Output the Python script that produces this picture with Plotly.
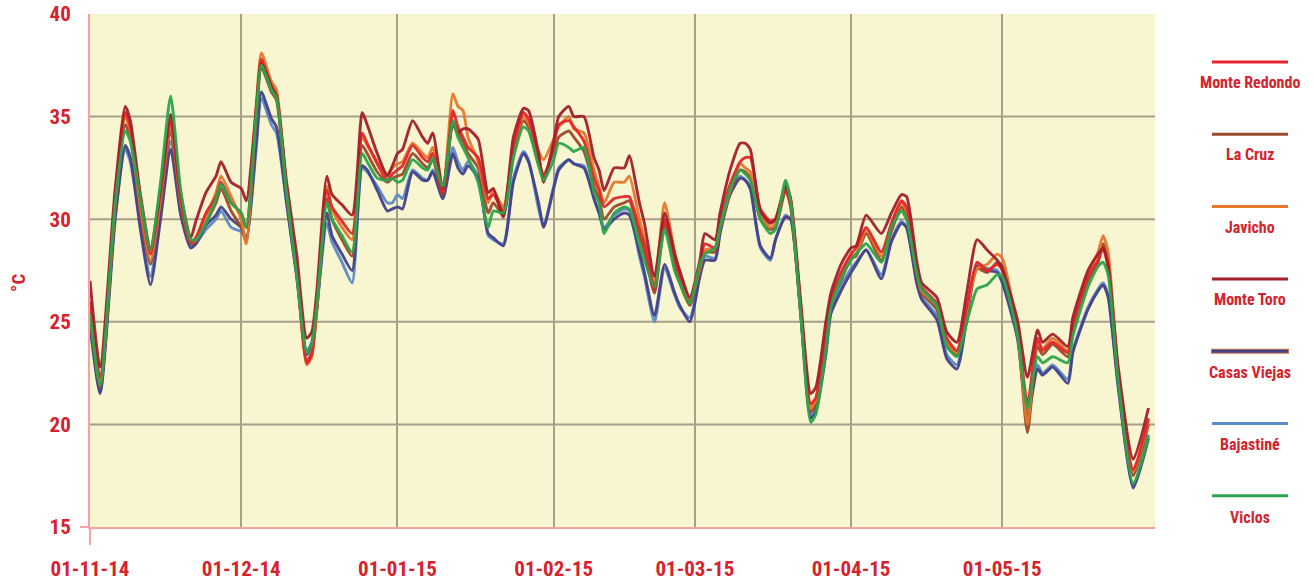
import pandas as pd
import plotly.graph_objects as go

# Days elapsed since 1 Nov 2014 for each sample
start = pd.Timestamp("2014-11-01")
day_offsets = [0, 2, 5, 7, 8, 10, 12, 14, 16, 18, 20, 21, 23, 25, 26, 28, 30, 31, 33, 34,
               36, 37, 39, 41, 43, 44, 45, 47, 48, 50, 52, 54, 55, 57, 59, 60, 61, 62, 64, 66,
               67, 68, 70, 72, 73, 74, 75, 77, 79, 80, 82, 84, 86, 87, 89, 90, 92, 93, 95, 96,
               98, 100, 101, 102, 104, 106, 107, 109, 110, 112, 114, 116, 117, 119, 121, 122, 124, 125, 127, 129,
               130, 131, 133, 135, 136, 138, 139, 141, 143, 144, 146, 147, 149, 151, 152, 154, 157, 159, 161, 162,
               164, 165, 168, 170, 172, 174, 176, 178, 180, 181, 184, 186, 188, 189, 191, 194, 195, 198, 200, 201,
               202, 204, 207, 210]

monte_toro = [27.0, 22.8, 31.5, 35.5, 34.8, 31.2, 28.6, 31.5, 35.1, 31.2, 29.1, 29.9, 31.3, 32.1, 32.8, 31.8, 31.5, 30.9, 35.5, 37.6,
              36.5, 36.0, 31.8, 28.3, 24.2, 24.5, 26.5, 32.1, 31.2, 30.7, 30.2, 35.2, 34.6, 33.2, 32.1, 32.6, 33.2, 33.4, 34.8, 34.0,
              33.7, 34.2, 31.5, 34.6, 34.2, 34.4, 34.4, 33.9, 31.3, 31.5, 30.1, 34.0, 35.4, 35.3, 33.2, 31.8, 33.8, 35.0, 35.5, 35.0,
              35.0, 33.0, 32.4, 31.4, 32.5, 32.5, 33.1, 30.8, 29.8, 27.2, 30.3, 28.3, 27.5, 26.2, 28.0, 29.3, 29.0, 30.3, 32.4, 33.7,
              33.7, 33.4, 30.4, 29.8, 30.0, 31.6, 31.0, 26.0, 21.5, 21.8, 25.0, 26.4, 27.8, 28.6, 28.7, 30.2, 29.3, 30.3, 31.2, 31.1,
              28.0, 26.9, 26.2, 24.5, 24.0, 26.5, 29.0, 28.5, 28.0, 27.6, 25.1, 22.3, 24.6, 24.0, 24.4, 23.8, 25.2, 27.5, 28.3, 28.6,
              27.8, 22.8, 18.3, 20.8]

monte_redondo = [26.0, 22.3, 31.0, 35.2, 34.5, 31.0, 28.3, 31.3, 34.8, 31.0, 28.9, 29.1, 30.3, 31.1, 31.8, 30.8, 30.3, 29.6, 35.2, 37.8,
                 36.4, 36.0, 31.5, 27.7, 23.0, 23.4, 25.8, 31.4, 30.6, 29.9, 29.3, 34.2, 33.7, 32.7, 31.9, 32.2, 32.4, 32.6, 33.6, 33.0,
                 32.8, 33.2, 31.3, 35.3, 34.5, 34.0, 33.5, 33.0, 31.0, 31.2, 30.4, 33.5, 35.2, 34.9, 33.0, 32.0, 33.6, 34.6, 34.8, 34.5,
                 33.8, 32.0, 31.4, 30.6, 31.0, 31.1, 31.1, 29.5, 28.8, 26.6, 30.0, 28.0, 27.2, 26.0, 27.8, 28.8, 28.6, 29.9, 31.7, 32.8,
                 33.0, 33.0, 30.5, 29.9, 30.0, 31.5, 30.8, 25.7, 21.0, 21.3, 24.4, 26.1, 27.4, 28.3, 28.6, 29.6, 28.4, 29.8, 30.9, 30.6,
                 27.7, 26.7, 25.9, 24.2, 23.6, 25.8, 27.9, 27.5, 27.8, 27.5, 24.8, 21.0, 24.2, 23.6, 24.0, 23.5, 24.8, 27.2, 28.0, 28.6,
                 27.6, 22.4, 17.8, 20.3]

javicho = [25.5, 22.0, 30.8, 35.0, 34.3, 30.6, 28.0, 31.0, 34.6, 30.9, 28.9, 29.0, 30.1, 31.3, 32.1, 31.1, 30.0, 28.8, 35.6, 38.1,
           36.7, 36.3, 31.5, 27.7, 22.9, 23.3, 25.6, 31.6, 30.5, 29.6, 29.0, 34.0, 33.6, 32.8, 32.2, 32.5, 32.7, 32.8, 33.7, 33.2,
           33.0, 33.5, 31.4, 36.1, 35.5, 35.3, 34.0, 32.8, 30.8, 31.4, 30.6, 33.4, 35.0, 34.7, 33.3, 32.9, 33.9, 34.5, 35.0, 34.4,
           34.2, 32.4, 31.6, 30.8, 31.8, 31.8, 32.1, 30.0, 29.0, 26.9, 30.8, 28.4, 27.4, 26.0, 27.6, 28.5, 28.6, 29.6, 31.4, 32.7,
           32.5, 32.3, 30.2, 29.6, 29.8, 31.8, 31.0, 25.8, 20.8, 21.2, 24.2, 26.0, 27.2, 28.2, 28.3, 29.5, 28.2, 29.7, 30.8, 30.4,
           27.5, 26.5, 25.8, 24.0, 23.5, 25.6, 27.6, 27.8, 28.3, 28.1, 24.6, 20.0, 24.0, 23.7, 24.2, 23.6, 24.9, 27.3, 28.4, 29.2,
           28.4, 22.5, 17.7, 20.2]

la_cruz = [25.2, 21.8, 30.5, 34.6, 34.0, 30.3, 27.8, 30.8, 34.3, 30.7, 28.8, 28.9, 29.8, 30.8, 31.5, 30.4, 29.6, 28.9, 35.0, 37.4,
           36.2, 35.8, 31.2, 27.5, 23.1, 23.5, 25.6, 31.0, 30.0, 29.0, 28.2, 33.6, 33.2, 32.3, 31.8, 32.0, 32.1, 32.2, 33.2, 32.7,
           32.5, 32.9, 31.2, 34.8, 34.2, 33.8, 33.2, 32.5, 30.3, 30.8, 30.2, 33.1, 34.8, 34.5, 32.7, 32.2, 33.3, 34.0, 34.3, 34.0,
           33.3, 31.6, 31.0, 30.0, 30.6, 30.8, 30.9, 29.2, 28.4, 26.4, 29.8, 27.6, 26.9, 25.8, 27.6, 28.4, 28.4, 29.5, 31.3, 32.4,
           32.3, 32.0, 30.0, 29.5, 29.6, 31.4, 30.6, 25.4, 20.6, 21.0, 24.0, 25.9, 27.0, 28.1, 28.2, 29.3, 28.0, 29.4, 30.6, 30.2,
           27.3, 26.4, 25.6, 23.9, 23.4, 25.5, 27.6, 27.4, 27.9, 27.7, 24.5, 19.6, 23.8, 23.4, 23.9, 23.3, 24.6, 27.0, 27.9, 28.8,
           28.0, 22.3, 17.5, 20.0]

viclos = [25.4, 21.9, 30.8, 34.3, 33.8, 31.0, 28.5, 31.8, 36.0, 31.4, 29.0, 29.0, 29.8, 31.0, 31.7, 30.8, 30.3, 29.6, 35.2, 37.5,
          36.3, 35.9, 31.3, 27.3, 23.5, 23.9, 25.8, 30.8, 30.0, 29.2, 28.4, 33.2, 32.8, 32.0, 31.9, 32.0, 31.8, 31.9, 32.9, 32.5,
          32.4, 33.0, 31.6, 34.8, 34.0, 33.5, 33.0, 31.8, 29.6, 30.4, 30.3, 33.0, 34.5, 34.3, 32.6, 31.9, 32.9, 33.7, 33.5, 33.3,
          33.5, 31.3, 30.8, 29.3, 30.3, 30.6, 30.5, 28.8, 28.0, 26.7, 29.5, 27.5, 26.9, 25.9, 27.8, 28.3, 28.6, 29.6, 31.5, 32.4,
          32.2, 31.9, 30.0, 29.3, 29.5, 31.9, 30.9, 25.4, 20.1, 20.5, 23.6, 25.7, 27.1, 28.0, 28.3, 28.8, 27.9, 29.6, 30.4, 30.0,
          27.4, 26.6, 25.8, 23.8, 23.3, 25.0, 26.6, 26.8, 27.3, 27.2, 24.4, 20.8, 23.3, 23.0, 23.3, 23.0, 24.3, 26.7, 27.7, 27.9,
          27.3, 22.1, 17.1, 19.4]

casas_viejas = [24.8, 21.5, 30.0, 33.6, 33.0, 29.5, 26.8, 30.0, 33.4, 30.2, 28.6, 28.8, 29.7, 30.2, 30.6, 30.0, 29.6, 29.0, 33.8, 36.2,
                34.9, 34.5, 30.8, 27.2, 23.4, 23.9, 25.6, 30.3, 29.2, 28.3, 27.5, 32.6, 32.4, 31.4, 30.4, 30.5, 30.6, 30.5, 32.3, 31.9,
                31.9, 32.3, 31.0, 33.2, 32.5, 32.2, 32.6, 32.0, 29.3, 29.1, 28.7, 31.8, 33.2, 32.8, 30.8, 29.6, 31.5, 32.4, 32.9, 32.7,
                32.5, 31.0, 30.3, 29.5, 30.0, 30.3, 30.2, 28.4, 27.4, 25.3, 27.8, 26.4, 25.8, 25.0, 27.2, 28.0, 28.0, 29.3, 31.2, 32.0,
                31.9, 31.5, 28.7, 28.1, 29.0, 30.1, 30.0, 25.4, 20.3, 20.6, 23.4, 25.4, 26.5, 27.4, 27.8, 28.5, 27.1, 28.9, 29.8, 29.6,
                26.9, 26.1, 25.1, 23.2, 22.7, 25.2, 27.7, 27.5, 27.4, 26.9, 24.2, 20.3, 22.7, 22.4, 22.8, 22.0, 23.5, 25.6, 26.5, 26.8,
                26.2, 21.8, 16.9, 19.3]

bajastine = [25.0, 21.6, 30.2, 33.4, 32.8, 29.8, 27.2, 30.5, 33.8, 30.4, 28.7, 28.8, 29.5, 30.0, 30.4, 29.6, 29.4, 29.1, 33.5, 35.9,
             34.6, 34.2, 30.8, 27.3, 23.6, 24.0, 25.8, 29.8, 28.9, 27.9, 26.9, 32.5, 32.3, 31.6, 30.8, 30.8, 31.2, 31.0, 32.4, 32.0,
             31.9, 32.4, 31.3, 33.5, 32.8, 32.4, 32.8, 32.1, 29.2, 29.0, 28.8, 32.0, 33.3, 32.9, 30.5, 29.7, 31.6, 32.5, 32.9, 32.7,
             32.6, 31.0, 30.3, 29.6, 30.2, 30.5, 30.4, 28.2, 27.2, 25.0, 27.6, 26.3, 25.7, 25.2, 27.4, 28.2, 28.1, 29.4, 31.3, 32.1,
             31.9, 31.5, 28.6, 28.0, 29.0, 30.2, 30.0, 25.5, 20.4, 20.8, 23.6, 25.5, 26.7, 27.6, 27.9, 28.5, 27.3, 29.0, 29.9, 29.6,
             27.0, 26.2, 25.3, 23.4, 22.9, 25.4, 27.8, 27.6, 27.5, 27.0, 24.4, 20.5, 22.9, 22.5, 22.9, 22.2, 23.6, 25.7, 26.6, 26.9,
             26.3, 21.9, 17.0, 19.5]

station_names = ["Monte Redondo", "La Cruz", "Javicho", "Monte Toro",
                 "Casas Viejas", "Bajastiné", "Viclos"]
station_values = [monte_redondo, la_cruz, javicho, monte_toro,
                  casas_viejas, bajastine, viclos]
station_colors = ["#E4262A", "#9B4A2C", "#E5782C", "#A2202C",
                  "#44428A", "#5B8BC8", "#2CA64B"]
# legend swatch outlines (only Casas Viejas has one)
swatch_edges = [None, None, None, None, "#C8764A", None, None]
# back-to-front drawing order (indices into the station lists)
draw_order = [5, 4, 1, 2, 0, 3, 6]

month_ticks = ["2014-11-01", "2014-12-01", "2015-01-01", "2015-02-01",
               "2015-03-01", "2015-04-01", "2015-05-01"]
month_labels = ["01-11-14", "01-12-14", "01-01-15", "01-02-15",
                "01-03-15", "01-04-15", "01-05-15"]
y_ticks = [15, 20, 25, 30, 35, 40]

dates = start + pd.to_timedelta(day_offsets, unit="D")

RED = "#D5222C"
PINK = "#F4A2A2"
GRID = "#A89F8A"
FONT = "Liberation Sans Narrow, Roboto Condensed, Roboto, sans-serif"

fig = go.Figure()
for i in draw_order:
    fig.add_trace(go.Scatter(
        x=dates, y=station_values[i], name=station_names[i], mode="lines",
        line=dict(color=station_colors[i], width=2.9, shape="spline", smoothing=0.6),
        opacity=0.95,
    ))

# plot-area geometry in pixels (figure is 1314 x 582)
L, R, T, B = 90, 1155, 14, 527
W, H = R - L, B - T


def px(x):
    return (x - L) / W


def py(y):
    return (B - y) / H


shapes = []
for v in y_ticks[1:-1]:
    shapes.append(dict(type="line", xref="paper", yref="y", x0=0, x1=1, y0=v, y1=v,
                       line=dict(color=GRID, width=2), layer="below"))
# small pink ticks at the origin
shapes.append(dict(type="line", xref="paper", yref="paper", x0=px(80), x1=px(90),
                   y0=0, y1=0, line=dict(color=PINK, width=2)))
shapes.append(dict(type="line", xref="paper", yref="paper", x0=0, x1=0,
                   y0=0, y1=py(545), line=dict(color=PINK, width=2)))

annotations = [dict(text="°C", xref="paper", yref="paper", x=px(18), y=py(283),
                    textangle=-90, showarrow=False, xanchor="center", yanchor="middle",
                    font=dict(family=FONT, size=19, color=RED, weight="bold"))]

# legend: a short line with the station name underneath
for i, name in enumerate(station_names):
    ly = 62 + 72.3 * i
    ty = 82 + 72.5 * i
    if swatch_edges[i]:
        shapes.append(dict(type="line", xref="paper", yref="paper",
                           x0=px(1211), x1=px(1289), y0=py(ly), y1=py(ly),
                           line=dict(color=swatch_edges[i], width=5)))
    shapes.append(dict(type="line", xref="paper", yref="paper",
                       x0=px(1212), x1=px(1288), y0=py(ly), y1=py(ly),
                       line=dict(color=station_colors[i], width=3)))
    annotations.append(dict(text=name, xref="paper", yref="paper", x=px(1250), y=py(ty),
                            showarrow=False, xanchor="center", yanchor="middle",
                            font=dict(family=FONT, size=16, color=RED, weight="bold")))

fig.update_layout(
    width=1314, height=582,
    margin=dict(l=L, r=1314 - R, t=T, b=582 - B),
    paper_bgcolor="white", plot_bgcolor="#F8F5D1",
    showlegend=False,
    shapes=shapes, annotations=annotations,
    xaxis=dict(
        type="date", automargin=False,
        range=[start, start + pd.Timedelta(days=211.3)],
        tickvals=month_ticks, ticktext=month_labels,
        showgrid=True, gridcolor=GRID, gridwidth=2,
        showline=True, linecolor=PINK, linewidth=2,
        zeroline=False, ticks="", ticklabelstandoff=22,
        tickfont=dict(family=FONT, size=21, color=RED, weight="bold"),
    ),
    yaxis=dict(
        range=[15, 40], tickvals=y_ticks, automargin=False,
        showgrid=False, showline=True, linecolor=PINK, linewidth=2,
        zeroline=False, ticks="", ticklabelstandoff=13,
        tickfont=dict(family=FONT, size=21, color=RED, weight="bold"),
    ),
)

fig.write_html("out.html")
